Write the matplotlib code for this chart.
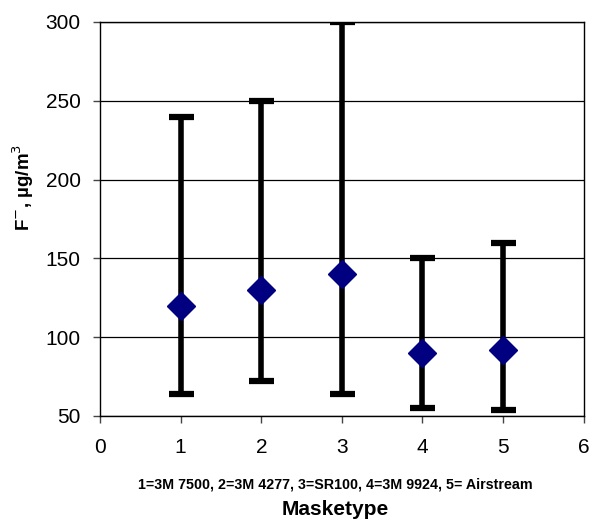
import matplotlib
matplotlib.use('Agg')
import matplotlib.pyplot as plt

plt.rcParams['font.family'] = ['Liberation Sans', 'DejaVu Sans']

mask_type = [1, 2, 3, 4, 5]
mean_f = [120, 130, 140, 90, 92]
low_f = [64, 72, 64, 55, 54]
high_f = [240, 250, 300, 150, 160]

x_ticks = [0, 1, 2, 3, 4, 5, 6]
y_ticks = [50, 100, 150, 200, 250, 300]


def main():
    fig = plt.figure(figsize=(5.92, 5.23), dpi=100)
    ax = fig.add_axes([0.169, 0.2046, 0.817, 0.7534])

    err_lo = [m - lo for m, lo in zip(mean_f, low_f)]
    err_hi = [hi - m for m, hi in zip(mean_f, high_f)]
    ax.errorbar(mask_type, mean_f, yerr=[err_lo, err_hi], fmt='none',
                ecolor='black', elinewidth=4, capsize=9, capthick=4.5, zorder=3)
    ax.plot(mask_type, mean_f, linestyle='none', marker='D', markersize=14,
            color='#000080', zorder=4)

    ax.set_xlim(0, 6)
    ax.set_ylim(50, 300)
    ax.set_xticks(x_ticks)
    ax.set_yticks(y_ticks)
    ax.yaxis.grid(True, color='black', linewidth=0.9)
    ax.set_axisbelow(True)
    ax.tick_params(axis='both', labelsize=15, direction='out', length=5, width=1,
                   color='#444444')
    ax.tick_params(axis='x', pad=11)
    ax.tick_params(axis='y', pad=9)
    for s in ax.spines.values():
        s.set_color('black')
        s.set_linewidth(1)

    ax.set_ylabel('F$^{-}$, µg/m$^3$', fontsize=13.5, fontweight='bold')
    ax.yaxis.set_label_coords(-0.132, 0.58)
    fig.text(0.566, 0.073, '1=3M 7500, 2=3M 4277, 3=SR100, 4=3M 9924, 5= Airstream',
             ha='center', va='center', fontsize=10.3, fontweight='bold')
    fig.text(0.566, 0.025, 'Masketype', ha='center', va='center',
             fontsize=15, fontweight='bold')

    plt.savefig('out.png')


if __name__ == "__main__":
    main()
